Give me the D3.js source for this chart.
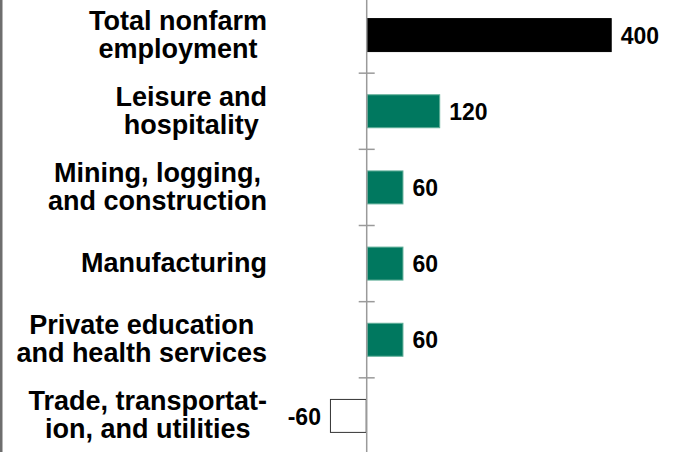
<!DOCTYPE html>
<html>
<head>
<meta charset="utf-8">
<script src="https://cdn.jsdelivr.net/npm/d3@7"></script>
<style>
  html, body { margin: 0; padding: 0; background: #fff; }
  svg { display: block; }
  text { font-family: "Liberation Sans", Arial, Helvetica, sans-serif; font-weight: bold; fill: #000; }
</style>
</head>
<body>
<svg id="chart" width="677" height="452"></svg>
<script>
// ---- data ----
const categories = [
  "Total nonfarm employment",
  "Leisure and hospitality",
  "Mining, logging, and construction",
  "Manufacturing",
  "Private education and health services",
  "Trade, transportation, and utilities"
];
const labelLines = [
  ["Total nonfarm", "employment"],
  ["Leisure and", "hospitality"],
  ["Mining, logging,", "and construction"],
  ["Manufacturing"],
  ["Private education", "and health services"],
  ["Trade, transportat-", "ion, and utilities"]
];
const values = [400, 120, 60, 60, 60, -60];
const barKinds = ["total", "pos", "pos", "pos", "pos", "neg"];

// ---- layout ----
const W = 677, H = 452;
const svg = d3.select("#chart");

const x = d3.scaleLinear().domain([0, 400]).range([366.7, 611.7]);
const pInner = 0.554;
const y = d3.scaleBand().domain(categories).range([-3, 454])
  .paddingInner(pInner).paddingOuter(pInner / 2);
const step = y.step();

// left frame line
svg.append("line")
  .attr("x1", 1.25).attr("x2", 1.25).attr("y1", 0).attr("y2", H)
  .attr("stroke", "#6e6e6e").attr("stroke-width", 2.5);

// bars
const fills = { total: "#000000", pos: "#00785f", neg: "#ffffff" };
const strokes = { total: "#000000", pos: "#5fae98", neg: "#333333" };
svg.append("g").selectAll("rect")
  .data(categories)
  .join("rect")
  .attr("x", (d, i) => Math.min(x(0), x(values[i])) + 0.5)
  .attr("y", d => y(d) + 0.5)
  .attr("width", (d, i) => Math.abs(x(values[i]) - x(0)) - 1)
  .attr("height", y.bandwidth() - 1)
  .attr("fill", (d, i) => fills[barKinds[i]])
  .attr("stroke", (d, i) => strokes[barKinds[i]])
  .attr("stroke-width", 1);

// axis line at zero
const x0 = x(0);
svg.append("line")
  .attr("x1", x0).attr("x2", x0).attr("y1", 0).attr("y2", H)
  .attr("stroke", "#9a9a9a").attr("stroke-width", 1.5);

// ticks at category boundaries
const boundaries = categories.slice(1).map(c => y(c) - step * pInner / 2);
svg.append("g").selectAll("line")
  .data(boundaries)
  .join("line")
  .attr("x1", x0 - 8).attr("x2", x0 + 8)
  .attr("y1", d => d).attr("y2", d => d)
  .attr("stroke", "#9a9a9a").attr("stroke-width", 1.5);

// value labels
svg.append("g").selectAll("text")
  .data(categories)
  .join("text")
  .attr("x", (d, i) => values[i] >= 0 ? x(values[i]) + 9 : x(values[i]) - 9)
  .attr("y", d => y(d) + y.bandwidth() / 2 + 8.6)
  .attr("text-anchor", (d, i) => values[i] >= 0 ? "start" : "end")
  .style("font-size", "23px")
  .text((d, i) => values[i]);

// category labels (block right-aligned, lines centred within the block)
const labelRight = 267;
const lineGap = 28;
const capH = 19;
const fs = "27px";
const gLab = svg.append("g");
categories.forEach((c, i) => {
  const lines = labelLines[i];
  const n = lines.length;
  const center = y(c) + y.bandwidth() / 2 - 1;
  const b1 = center - ((n - 1) * lineGap - capH) / 2;
  const tmp = gLab.append("text").style("font-size", fs);
  const w = d3.max(lines, ln => { tmp.text(ln); return tmp.node().getComputedTextLength(); });
  tmp.remove();
  const cx = labelRight - w / 2;
  const t = gLab.append("text")
    .attr("x", cx)
    .attr("y", b1)
    .attr("text-anchor", "middle")
    .style("font-size", fs);
  lines.forEach((ln, k) => {
    t.append("tspan")
      .attr("x", cx)
      .attr("y", b1 + k * lineGap)
      .text(ln);
  });
});
</script>
</body>
</html>
